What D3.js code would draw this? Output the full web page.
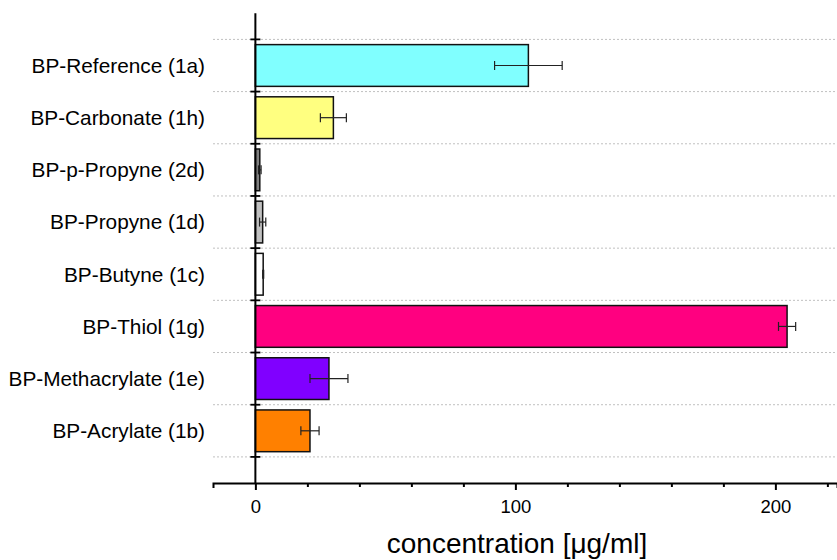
<!DOCTYPE html>
<meta charset="utf-8">
<html>
    <head>
        <style>
            body { margin: 0; background: #fff; }
            text { font-family: "Liberation Sans", Arial, sans-serif; fill: #000; }
        </style>
        <script src="https://d3js.org/d3.v7.min.js"></script>
    </head>
    <body>
        <script>

            // Data
            var categories = ["BP-Reference (1a)", "BP-Carbonate (1h)", "BP-p-Propyne (2d)", "BP-Propyne (1d)",
                              "BP-Butyne (1c)", "BP-Thiol (1g)", "BP-Methacrylate (1e)", "BP-Acrylate (1b)"];
            var values = [105, 30, 1.7, 2.8, 3.0, 204.5, 28.3, 21];
            var errors = [13, 5, 0.5, 1.2, 0.2, 3.3, 7.3, 3.5];
            var colors = ["#80ffff", "#ffff80", "#808080", "#c0c0c0", "#ffffff", "#ff0080", "#8000ff", "#ff8000"];
            var majorTicks = [0, 100, 200];
            var minorTicks = [20, 40, 60, 80, 120, 140, 160, 180, 220];

            var width = 837, height = 560;

            var svg = d3.select("body")
                .append("svg")
                .attr("width", width)
                .attr("height", height);

            // x is concentration, y runs over the category slots 1..8
            var x = d3.scaleLinear()
                .domain([-16.3, 223.7])
                .range([213, 837]);

            var y = d3.scaleLinear()
                .domain([0, 9])
                .range([13.3, 483]);

            var bandH = y(1) - y(0);
            var barH = bandH * 0.8;

            // dotted grid lines between categories
            var bounds = d3.range(0.5, 9, 1);
            svg.append("g")
                .selectAll("line")
                .data(bounds)
                .enter().append("line")
                .attr("x1", x.range()[0])
                .attr("x2", width)
                .attr("y1", function(d) { return y(d); })
                .attr("y2", function(d) { return y(d); })
                .attr("stroke", "#c0c0c0")
                .attr("stroke-width", 1)
                .attr("stroke-dasharray", "2,2");

            // bars
            svg.append("g")
                .selectAll("rect")
                .data(values)
                .enter().append("rect")
                .attr("x", x(0))
                .attr("y", function(d, i) { return y(i + 1) - barH / 2; })
                .attr("width", function(d) { return x(d) - x(0); })
                .attr("height", barH)
                .attr("fill", function(d, i) { return colors[i]; })
                .attr("stroke", "#111")
                .attr("stroke-width", 1.5);

            // error bars
            var eb = svg.append("g")
                .attr("stroke", "#222")
                .attr("stroke-width", 1.2);
            values.forEach(function(v, i) {
                var cy = y(i + 1);
                eb.append("line")
                    .attr("x1", x(v - errors[i])).attr("x2", x(v + errors[i]))
                    .attr("y1", cy).attr("y2", cy);
                [v - errors[i], v + errors[i]].forEach(function(e) {
                    eb.append("line")
                        .attr("x1", x(e)).attr("x2", x(e))
                        .attr("y1", cy - 4.5).attr("y2", cy + 4.5);
                });
            });

            // category labels
            svg.append("g")
                .selectAll("text")
                .data(categories)
                .enter().append("text")
                .attr("x", 205)
                .attr("y", function(d, i) { return y(i + 1); })
                .attr("dy", "0.35em")
                .attr("text-anchor", "end")
                .attr("font-size", 20.8)
                .text(function(d) { return d; });

            // y axis line with crossing ticks
            svg.append("line")
                .attr("x1", x(0)).attr("x2", x(0))
                .attr("y1", y(0)).attr("y2", y(9))
                .attr("stroke", "#000")
                .attr("stroke-width", 2);
            svg.append("g")
                .selectAll("line")
                .data(bounds)
                .enter().append("line")
                .attr("x1", x(0) - 5).attr("x2", x(0) + 5)
                .attr("y1", function(d) { return y(d); })
                .attr("y2", function(d) { return y(d); })
                .attr("stroke", "#000")
                .attr("stroke-width", 1.8);

            // x axis
            var gx = svg.append("g")
                .attr("transform", "translate(0," + y(9) + ")");
            gx.call(d3.axisBottom(x).tickValues(majorTicks).tickSize(7).tickSizeOuter(5).tickPadding(10));
            gx.select(".domain").attr("stroke-width", 2);
            gx.selectAll(".tick line").attr("stroke-width", 2);
            gx.selectAll(".tick text")
                .attr("font-size", 18.5)
                .attr("font-family", "Liberation Sans, Arial, sans-serif");

            svg.append("g")
                .attr("transform", "translate(0," + y(9) + ")")
                .call(d3.axisBottom(x).tickValues(minorTicks).tickSize(4).tickFormat(""))
                .call(function(g) { g.select(".domain").remove(); })
                .selectAll(".tick line").attr("stroke-width", 2);

            svg.append("text")
                .attr("x", 517)
                .attr("y", 553)
                .attr("text-anchor", "middle")
                .attr("font-size", 28)
                .text("concentration [\u03bcg/ml]");

        </script>
    </body>
</html>
